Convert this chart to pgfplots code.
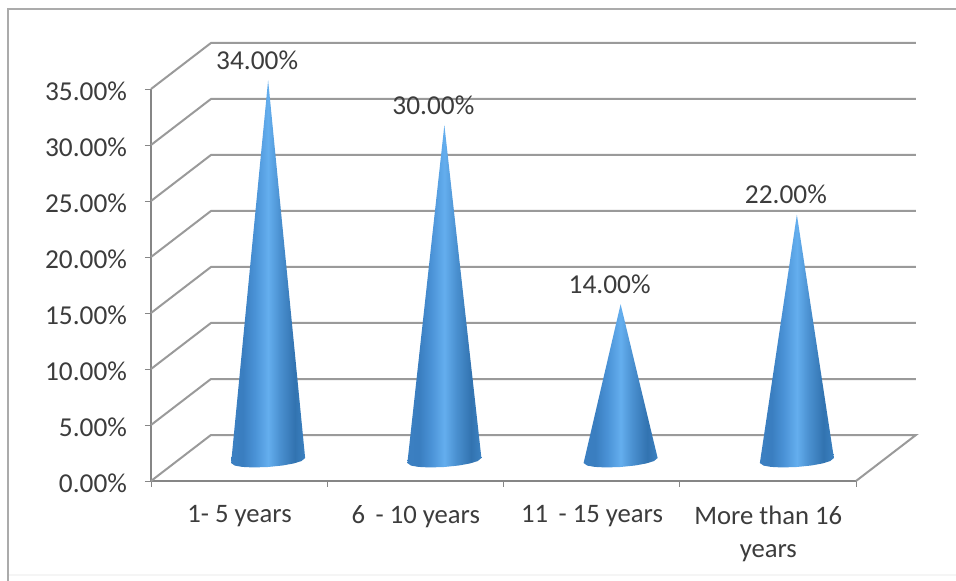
\documentclass[border=0pt]{standalone}
\usepackage{fontspec}
\setmainfont{Carlito}
\usepackage{pgfplots}
\pgfplotsset{compat=1.18}
\definecolor{labeltext}{HTML}{3C3C3C}
\definecolor{gridgray}{HTML}{9A9A9A}
\definecolor{axisgray}{HTML}{868686}
\definecolor{framegray}{HTML}{ABABAB}
\definecolor{coneA}{HTML}{3B7FC1}
\definecolor{coneB}{HTML}{3A7EC0}
\definecolor{coneC}{HTML}{4A92D6}
\definecolor{coneD}{HTML}{64AEEE}
\definecolor{coneE}{HTML}{4A90D0}
\definecolor{coneF}{HTML}{3273B0}
\definecolor{coneG}{HTML}{3C82C2}
% Side lighting across a cone: the path's width spans 25bp to 75bp
\pgfdeclarehorizontalshading{coneblue}{100bp}{
  color(0bp)=(coneA);
  color(25bp)=(coneA);
  color(33bp)=(coneB);
  color(41bp)=(coneC);
  color(50bp)=(coneD);
  color(58bp)=(coneE);
  color(68bp)=(coneF);
  color(75bp)=(coneG);
  color(100bp)=(coneG)}
\begin{document}
\begin{tikzpicture}[x=1pt,y=1pt]
% page: 956 x 581 units of 0.75pt, axis corner 151 across and 100 up
\useasboundingbox (-113.25,-75) rectangle (603.75,360.75);
\begin{axis}[
  at={(0pt,0pt)}, anchor=south west,
  scale only axis, width=528.75pt, height=294pt,
  clip=false,
  xmin=0, xmax=4, ymin=0, ymax=35,
  axis x line=bottom, axis y line=left,
  axis line style={-, draw=axisgray, line width=0.9pt},
  tick align=outside,
  major tick length=4.5pt, minor tick length=4.5pt,
  tick style={draw=axisgray, line width=0.7pt},
  major x tick style={draw=none},
  xtick={0.5,1.5,2.5,3.5},
  minor xtick={0,1,2,3,4},
  xticklabels={1- 5 years,6\, - 10 years,11\, - 15 years,More than 16\\years},
  x tick label style={align=center, font=\fontsize{20}{24.75}\selectfont, text=labeltext, yshift=-10.5pt, xshift=0.3pt},
  ytick={0,5,...,35},
  yticklabel={\pgfmathprintnumber[assume math mode=true,fixed,fixed zerofill,precision=2]{\tick}\%},
  y tick label style={font=\fontsize{20.5}{24.75}\selectfont, text=labeltext, xshift=-10pt, yshift=-1.5pt},
]
% back wall lines with their run along the left side wall
\addplot[gridgray,line width=1.5pt] coordinates {(0,5)(0.34,9.107)(4.34,9.107)};
\addplot[gridgray,line width=1.5pt] coordinates {(0,10)(0.34,14.107)(4.34,14.107)};
\addplot[gridgray,line width=1.5pt] coordinates {(0,15)(0.34,19.107)(4.34,19.107)};
\addplot[gridgray,line width=1.5pt] coordinates {(0,20)(0.34,24.107)(4.34,24.107)};
\addplot[gridgray,line width=1.5pt] coordinates {(0,25)(0.34,29.107)(4.34,29.107)};
\addplot[gridgray,line width=1.5pt] coordinates {(0,30)(0.34,34.107)(4.34,34.107)};
\addplot[gridgray,line width=1.5pt] coordinates {(0,35)(0.34,39.107)(4.34,39.107)};
% floor
\addplot[gridgray,line width=1.5pt] coordinates {(0,0)(0.34,4.107)(4.34,4.107)(4,0)};
% cones: base ellipse from left to right, then the tip at the value
\addplot[draw=none,shading=coneblue,xshift=21.75pt,yshift=15pt] coordinates {(0.29,-0.18)(0.311,-0.41)(0.353,-0.527)(0.416,-0.577)(0.5,-0.535)(0.584,-0.397)(0.647,-0.212)(0.689,-0.005)(0.71,0.27)(0.5,34)};
\addplot[draw=none,shading=coneblue,xshift=21.75pt,yshift=15pt] coordinates {(1.29,-0.18)(1.311,-0.41)(1.353,-0.527)(1.416,-0.577)(1.5,-0.535)(1.584,-0.397)(1.647,-0.212)(1.689,-0.005)(1.71,0.27)(1.5,30)};
\addplot[draw=none,shading=coneblue,xshift=21.75pt,yshift=15pt] coordinates {(2.29,-0.18)(2.311,-0.41)(2.353,-0.527)(2.416,-0.577)(2.5,-0.535)(2.584,-0.397)(2.647,-0.212)(2.689,-0.005)(2.71,0.27)(2.5,14)};
\addplot[draw=none,shading=coneblue,xshift=21.75pt,yshift=15pt] coordinates {(3.29,-0.18)(3.311,-0.41)(3.353,-0.527)(3.416,-0.577)(3.5,-0.535)(3.584,-0.397)(3.647,-0.212)(3.689,-0.005)(3.71,0.27)(3.5,22)};
% value labels above the tips
\addplot[draw=none,mark=none,
  nodes near coords={\pgfmathprintnumber[assume math mode=true,fixed,fixed zerofill,precision=2]{\pgfplotspointmeta}\%},
  every node near coord/.append style={anchor=center,xshift=13.5pt,yshift=30pt,font=\fontsize{20.5}{24}\selectfont,text=labeltext,inner sep=0pt},
] coordinates {(0.5,34)(1.5,30)(2.5,14)(3.5,22)};
\end{axis}
% chart area outline: left and top edges, faint bottom edge
\draw[black!4,line width=0.8pt] (-107.25,-70.5) -- (603.75,-70.5);
\draw[framegray,line width=1.4pt] (-107.25,-75) -- (-107.25,354) -- (603.75,354);
\end{tikzpicture}
\end{document}
